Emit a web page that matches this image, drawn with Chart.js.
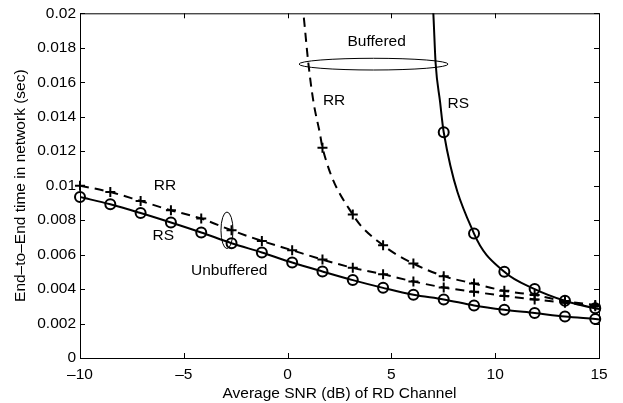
<!DOCTYPE html>
<html>
<head>
<meta charset="utf-8">
<script src="https://cdn.jsdelivr.net/npm/chart.js@4.4.0/dist/chart.umd.min.js"></script>
<style>
html, body { margin: 0; padding: 0; background: #fff; }
#wrap { width: 623px; height: 403px; }
</style>
</head>
<body>
<div id="wrap"><canvas id="delay-chart" width="623" height="403"></canvas></div>
<script>
// SNR (dB) where the markers sit
const snr = [-10, -8.54, -7.08, -5.62, -4.16, -2.70, -1.24, 0.22, 1.68, 3.14, 4.60, 6.06, 7.52, 8.98, 10.44, 11.90, 13.36, 14.82];

// end-to-end delay (sec)
const rsUnbuffered = [0.00934, 0.00892, 0.00841, 0.00786, 0.00728, 0.00666, 0.00612, 0.00554, 0.00502, 0.00452, 0.00407, 0.00367, 0.00340, 0.00305, 0.00280, 0.00261, 0.00241, 0.00226];
const rrUnbuffered = [0.01000, 0.00963, 0.00911, 0.00857, 0.00809, 0.00741, 0.00679, 0.00625, 0.00571, 0.00523, 0.00486, 0.00444, 0.00409, 0.00384, 0.00360, 0.00340, 0.00320, 0.00300];
const rrBuffered = [null, null, null, null, null, null, null, null, 0.01220, 0.00832, 0.00654, 0.00548, 0.00475, 0.00432, 0.00390, 0.00365, 0.00330, 0.00308];
const rsBuffered = [null, null, null, null, null, null, null, null, null, null, null, null, 0.01310, 0.00722, 0.00500, 0.00400, 0.00332, 0.00288];

// buffered curves near their asymptotes (they run off the top of the axes)
const rrBufferedTopSnr = [0.70, 0.76, 1.00, 1.24, 1.56];
const rrBufferedTop = [0.0206, 0.0200, 0.0171, 0.0149, 0.0130];
const rsBufferedTopSnr = [6.99, 7.02, 7.13, 7.34];
const rsBufferedTop = [0.0206, 0.0200, 0.0171, 0.0149];

// curve values at the right edge (15 dB)
const endSnr = 15;
const endValues = { rsUnbuffered: 0.00224, rrUnbuffered: 0.00298, rsBuffered: 0.00284, rrBuffered: 0.00305 };

// axis ticks
const xTicks = [-10, -5, 0, 5, 10, 15];
const yTicks = [0, 0.002, 0.004, 0.006, 0.008, 0.01, 0.012, 0.014, 0.016, 0.018, 0.02];

const FONT = 'Liberation Sans, Arial, Helvetica, sans-serif';

function pts(xs, ys) {
    return xs.map((x, i) => ({ x: x, y: ys[i] })).filter(p => p.y !== null);
}

function curve(ys, endY, topXs, topYs) {
    let out = [];
    if (topXs) out = pts(topXs, topYs);
    return out.concat(pts(snr, ys), [{ x: endSnr, y: endY }]);
}

function lineSet(data, dashed) {
    return {
        data: data,
        showLine: true,
        borderColor: '#000',
        borderWidth: 2,
        borderDash: dashed ? [9, 6] : [],
        pointRadius: 0,
        cubicInterpolationMode: 'monotone',
        clip: 0
    };
}

function markerSet(data, style) {
    return {
        data: data,
        showLine: false,
        pointStyle: style,
        pointRadius: 5,
        pointBorderWidth: 2,
        pointBorderColor: '#000',
        pointBackgroundColor: 'rgba(0,0,0,0)',
        clip: false
    };
}

// box with inward tick marks on all four sides
const frame = {
    id: 'frame',
    afterDatasetsDraw(chart) {
        const { ctx, chartArea: a, scales: { x, y } } = chart;
        const len = 5;
        ctx.save();
        ctx.strokeStyle = '#000';
        ctx.lineWidth = 1;
        ctx.strokeRect(a.left + 0.5, a.top + 0.5, a.right - a.left, a.bottom - a.top);
        ctx.beginPath();
        xTicks.forEach(v => {
            const px = Math.round(x.getPixelForValue(v)) + 0.5;
            ctx.moveTo(px, a.bottom); ctx.lineTo(px, a.bottom - len);
            ctx.moveTo(px, a.top); ctx.lineTo(px, a.top + len);
        });
        yTicks.forEach(v => {
            const py = Math.round(y.getPixelForValue(v)) + 0.5;
            ctx.moveTo(a.left, py); ctx.lineTo(a.left + len, py);
            ctx.moveTo(a.right, py); ctx.lineTo(a.right - len, py);
        });
        ctx.stroke();
        ctx.restore();
    }
};

// group ellipses and curve names
const notes = {
    id: 'notes',
    afterDatasetsDraw(chart) {
        const { ctx, scales: { x, y } } = chart;
        const ellipse = (cx, cy, rx, ry) => {
            const px = x.getPixelForValue(cx), py = y.getPixelForValue(cy);
            const w = Math.abs(x.getPixelForValue(cx + rx) - px);
            const h = Math.abs(y.getPixelForValue(cy + ry) - py);
            ctx.beginPath();
            ctx.ellipse(px, py, w, h, 0, 0, Math.PI * 2);
            ctx.stroke();
        };
        const label = (txt, cx, cy) => {
            ctx.fillText(txt, x.getPixelForValue(cx), y.getPixelForValue(cy));
        };
        ctx.save();
        ctx.strokeStyle = '#000';
        ctx.lineWidth = 1;
        ellipse(4.14, 0.01705, 3.59, 0.00034);
        ellipse(-2.92, 0.00741, 0.29, 0.00106);
        ctx.fillStyle = '#000';
        ctx.font = '15.5px ' + FONT;
        ctx.textAlign = 'center';
        ctx.textBaseline = 'middle';
        label('Buffered', 4.29, 0.01838);
        label('RR', 2.24, 0.01494);
        label('RS', 8.22, 0.01475);
        label('RR', -5.91, 0.01002);
        label('RS', -5.99, 0.00712);
        label('Unbuffered', -2.81, 0.00505);
        ctx.restore();
    }
};

new Chart(document.getElementById('delay-chart').getContext('2d'), {
    type: 'scatter',
    data: {
        datasets: [
            lineSet(curve(rsUnbuffered, endValues.rsUnbuffered), false),
            lineSet(curve(rrUnbuffered, endValues.rrUnbuffered), true),
            lineSet(curve(rsBuffered, endValues.rsBuffered, rsBufferedTopSnr, rsBufferedTop), false),
            lineSet(curve(rrBuffered, endValues.rrBuffered, rrBufferedTopSnr, rrBufferedTop), true),
            markerSet(pts(snr, rsUnbuffered), 'circle'),
            markerSet(pts(snr, rrUnbuffered), 'cross'),
            markerSet(pts(snr, rsBuffered), 'circle'),
            markerSet(pts(snr, rrBuffered), 'cross')
        ]
    },
    options: {
        responsive: false,
        animation: false,
        layout: { padding: { left: 0, right: 24, top: 13, bottom: 0 } },
        plugins: { legend: { display: false }, tooltip: { enabled: false } },
        scales: {
            x: {
                type: 'linear',
                min: -10,
                max: 15,
                afterBuildTicks: s => { s.ticks = xTicks.map(v => ({ value: v })); },
                afterFit: s => { s.height = 45; },
                grid: { display: false, drawTicks: false },
                border: { display: false },
                ticks: {
                    color: '#000',
                    padding: 7,
                    maxRotation: 0,
                    font: { family: FONT, size: 15.5 },
                    callback: v => v < 0 ? '\u2013' + Math.abs(v) : String(v)
                },
                title: {
                    display: true,
                    text: 'Average SNR (dB) of RD Channel',
                    color: '#000',
                    padding: { top: 0, bottom: 0 },
                    font: { family: FONT, size: 15.5 }
                }
            },
            y: {
                type: 'linear',
                min: 0,
                max: 0.02,
                afterBuildTicks: s => { s.ticks = yTicks.map(v => ({ value: v })); },
                afterFit: s => { s.width = 80; },
                grid: { display: false, drawTicks: false },
                border: { display: false },
                ticks: {
                    color: '#000',
                    padding: 4,
                    font: { family: FONT, size: 15.5 },
                    callback: v => String(+v.toFixed(3))
                },
                title: {
                    display: true,
                    text: 'End\u2013to\u2013End time in network (sec)',
                    color: '#000',
                    padding: { top: 11, bottom: 0 },
                    font: { family: FONT, size: 15.5 }
                }
            }
        }
    },
    plugins: [frame, notes]
});
</script>
</body>
</html>
